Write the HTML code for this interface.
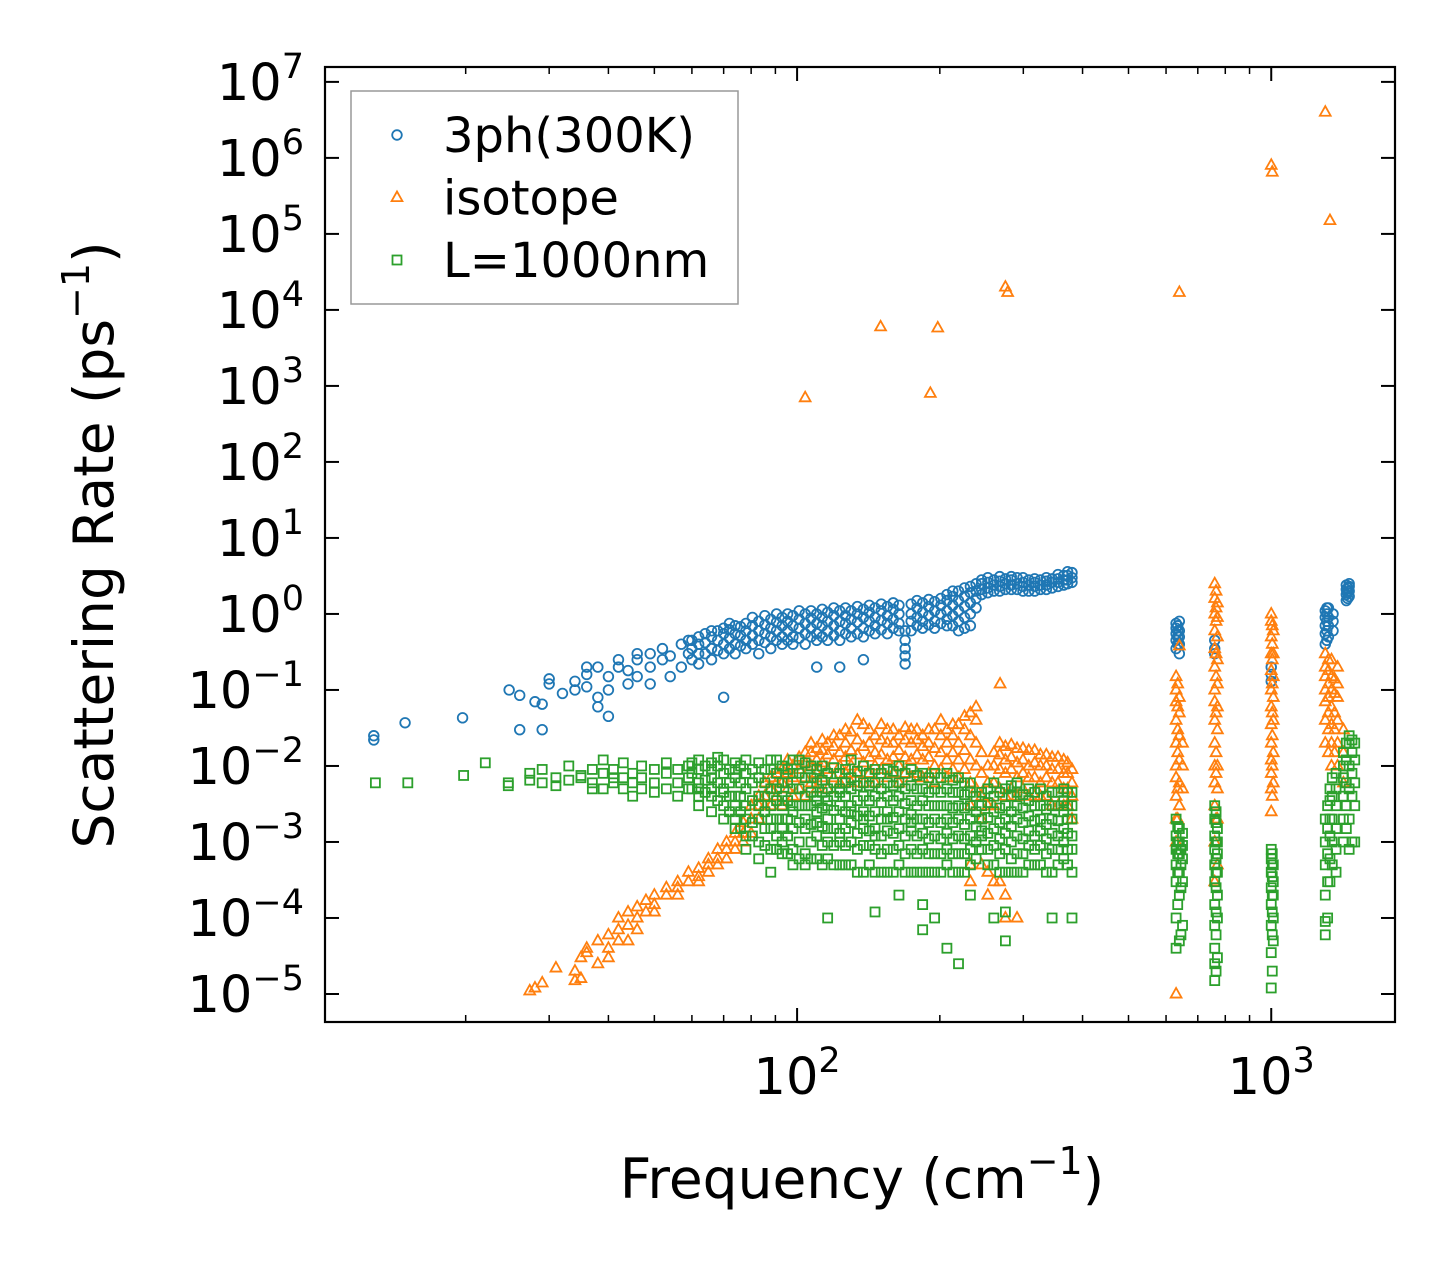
<!DOCTYPE html>
<html><head><meta charset="utf-8"><style>
html,body{margin:0;padding:0;background:#fff;}
svg{display:block;font-family:"DejaVu Sans","Liberation Sans",sans-serif;}
</style></head><body>
<svg id="chart" width="1455" height="1272" viewBox="0 0 1455 1272" xmlns="http://www.w3.org/2000/svg">
<rect x="0" y="0" width="1455" height="1272" fill="#fff"/>
<g id="marks"></g>
<g id="axes"></g>
<g id="legend"></g>
</svg>
<script>
const xDomain=[10.1,1824];
const yDomain=[4.28e-6,1.57e7];
const xTickExps=[2,3];
const yTickExps=[-5,-4,-3,-2,-1,0,1,2,3,4,5,6,7];
const seriesNames=["3ph(300K)","isotope","L=1000nm"];
const seriesColors=["#1f77b4","#ff7f0e","#2ca02c"];

const blueCols=[[12.8,[0.022,0.025]],[14.9,[0.037]],[19.7,[0.043]],[24.7,[0.1]],[26,[0.085,0.03]],[28,[0.07]],[29,[0.03,0.065]],[30,[0.14,0.12]],[32,[0.09]],[34,[0.1,0.13]],[36,[0.16,0.2,0.11]],[38,[0.2,0.06,0.08]],[40,[0.15,0.1,0.045]],[42,[0.2,0.25]],[44,[0.18,0.12]],[46,[0.25,0.3,0.15]],[49,[0.3,0.2,0.12]],[52,[0.35,0.25]],[54,[0.15,0.28]],[57,[0.2,0.4]],[59,[0.3,0.45]],
[62,[0.3,0.4,0.22,0.5]],[66,[0.35,0.5,0.25,0.6]],[70,[0.4,0.55,0.3,0.65,0.08]],[74,[0.4,0.55,0.7,0.3]],[78,[0.45,0.6,0.75,0.35]],[83,[0.45,0.6,0.8,0.3]],[88,[0.5,0.65,0.85,0.35]],[93,[0.5,0.7,0.9,0.4]],[98,[0.5,0.7,0.95,0.4]],[104,[0.55,0.75,1.0,0.4]],[110,[0.55,0.75,1.0,0.45,0.2]],[116,[0.6,0.8,1.05,0.45]],[123,[0.6,0.8,1.1,0.45,0.2]],[130,[0.65,0.85,1.1,0.5]],[138,[0.65,0.9,1.15,0.5,0.25]],[146,[0.7,0.9,1.2,0.55]],[155,[0.75,0.95,1.25,0.55]],[164,[0.75,1.0,1.3,0.6]],[169,[0.22,0.28,0.35,0.45,0.6]],[174,[0.8,1.0,1.35,0.6]],[184,[0.8,1.05,1.4,0.65]],[195,[0.8,1.1,1.45,0.65]],[207,[0.85,1.1,1.5,0.7,1.8]],[219,[0.6,0.8,1.1,1.5,2.0]],[232,[0.7,1.0,1.4,1.9,2.3]],[245,[1.8,2.1,2.5,2.8]],[260,[2.0,2.4,2.8]],[275,[2.1,2.5,2.9]],[291,[2.1,2.5,3.0]],[308,[2.0,2.4,2.8]],[326,[2.1,2.4,2.8]],[345,[2.2,2.6,2.9]],[365,[2.4,2.8,3.2]],[380,[2.6,3.0,3.5]],
[630,[0.35,0.45,0.55,0.65,0.75]],[640,[0.3,0.4,0.5,0.6,0.8]],[760,[0.3,0.35,0.45]],[1000,[0.13,0.16,0.2]],[1300,[0.4,0.55,0.7,0.9,1.1]],[1320,[0.5,0.7,0.9,1.2]],[1350,[0.6,0.8,1.0]],[1440,[1.5,1.8,2.1,2.4]],[1460,[1.7,2.0,2.3,2.5]]];

const blueCols2=[[60,[0.25,0.35,0.45]],[64,[0.3,0.42,0.55]],[68,[0.33,0.45,0.6]],[72,[0.35,0.48,0.62,0.75]],[76,[0.38,0.52,0.68]],[80.5,[0.4,0.52,0.7,0.9]],[85.5,[0.42,0.55,0.72,0.95]],[90.5,[0.45,0.6,0.78,1.0]],[95.5,[0.45,0.6,0.8,1.0]],[101,[0.48,0.65,0.85,1.1]],[107,[0.5,0.65,0.88,1.1]],[113,[0.5,0.7,0.9,1.15]],[119.5,[0.52,0.7,0.95,1.2]],[126.5,[0.55,0.75,0.95,1.2]],[134,[0.55,0.78,1.0,1.25]],[142,[0.6,0.8,1.05,1.3]],[150.5,[0.62,0.82,1.1,1.35]],[159.5,[0.65,0.85,1.15,1.4]],[179,[0.7,0.9,1.2,1.5]],[189.5,[0.72,0.95,1.25,1.55]],[201,[0.75,1.0,1.3,1.6]],[213,[0.7,0.95,1.3,1.7,2.0]],[225.5,[0.65,0.9,1.25,1.7,2.2]],[238.5,[1.2,1.6,2.0,2.5]],[252.5,[1.9,2.2,2.6,3.0]],[267.5,[2.0,2.3,2.7,3.1]],[283,[2.1,2.4,2.8,3.1]],[299.5,[2.0,2.3,2.6,3.0]],[317,[2.0,2.3,2.6,2.9]],[335.5,[2.1,2.4,2.7,3.0]],[355,[2.3,2.6,2.9,3.3]],[372,[2.5,2.8,3.2,3.6]],[635,[0.4,0.5,0.6,0.7]],[1310,[0.45,0.6,0.8,1.0,1.2]],[1450,[1.6,1.9,2.2]]];

const orangeCols=[[27.3,[1.1e-5]],[28,[1.2e-5]],[29,[1.4e-5]],[31,[2.2e-5]],[34,[1.5e-5,2e-5]],[35,[1.6e-5,3e-5]],[36,[4e-5,3.5e-5]],[38,[2.5e-5,5e-5]],[40,[6e-5,4e-5,3e-5]],[42,[5e-5,7e-5,1e-4]],[44,[8e-5,5e-5,1.2e-4]],[46,[1e-4,7e-5,1.4e-4]],[48,[1.2e-4,1.7e-4]],[50,[1.5e-4,2e-4,1.2e-4]],[53,[2e-4,2.5e-4]],[56,[2.5e-4,3e-4,2e-4]],[59,[3e-4,4e-4]],[62,[3.5e-4,4.5e-4,3e-4]],[65,[4e-4,5e-4,6e-4]],[68,[5e-4,6e-4,8e-4]],[71,[6e-4,8e-4,1e-3]],[74,[8e-4,1e-3,1.3e-3]],[77,[1e-3,1.3e-3,1.8e-3]],[80,[1.3e-3,2e-3,3e-3]],
[83,[0.002,0.003,0.004]],[88,[0.003,0.005,0.007]],[93,[0.003,0.006,0.009]],[98,[0.004,0.007,0.01]],[104,[0.004,0.007,0.011,0.015,700]],[110,[0.005,0.008,0.012,0.017]],[116,[0.005,0.009,0.014,0.02]],[123,[0.006,0.01,0.015,0.025]],[130,[0.006,0.01,0.016,0.028]],[138,[0.006,0.011,0.018,0.035]],[146,[0.006,0.01,0.015,0.025]],[150,[6000]],[155,[0.007,0.012,0.02,0.03]],[164,[0.006,0.01,0.016,0.025]],[174,[0.007,0.012,0.02,0.03]],[184,[0.007,0.012,0.018,0.025]],[191,[800]],[195,[0.006,0.01,0.017,0.03]],[198,[5800]],[207,[0.007,0.012,0.02,0.03]],[219,[0.007,0.012,0.02,0.035]],[232,[0.006,0.012,0.025,0.05,0.003,0.0005,0.0003]],[245,[0.004,0.008,0.015,0.002,0.0005]],[260,[0.003,0.006,0.01,0.015,0.0003]],[268,[0.12]],[275,[0.004,0.008,0.012,0.018,0.0002,0.0001,20000]],[278,[17000]],[291,[0.004,0.007,0.011,0.017,0.0001]],[308,[0.004,0.007,0.01,0.016]],[326,[0.004,0.006,0.01,0.014]],[345,[0.003,0.006,0.009,0.013]],[365,[0.003,0.005,0.008,0.012]],[380,[0.002,0.004,0.006,0.009]],
[630,[1e-5,0.001,0.002,0.004,0.007,0.01,0.02,0.04,0.07,0.1,0.15]],[640,[0.003,0.006,0.012,0.025,0.05,0.08,0.38,17000]],[650,[0.005,0.01,0.02]],[760,[3e-4,0.001,0.003,0.006,0.01,0.02,0.04,0.07,0.1,0.2,0.35,0.6,1.0,1.6,2.5]],[770,[5e-4,0.002,0.005,0.01,0.03,0.06,0.12,0.25,0.5,0.9,1.4]],[1000,[0.0025,0.005,0.008,0.012,0.02,0.035,0.06,0.1,0.18,0.3,0.5,0.8,1.0,8e5]],[1005,[6.5e5]],[1010,[0.006,0.015,0.04,0.08,0.15,0.3,0.6]],[1300,[0.02,0.04,0.07,0.1,0.15,0.2,0.3,4e6]],[1330,[1.5e5]],[1340,[0.01,0.02,0.035,0.06,0.1,0.15,0.25]],[1380,[0.01,0.02,0.04,0.08,0.12,0.2]],[1420,[0.006,0.015,0.03]]];

const orangeCols2=[[85.5,[0.003,0.004,0.006]],[90.5,[0.004,0.006,0.008]],[95.5,[0.005,0.008,0.012]],[101,[0.005,0.009,0.013]],[107,[0.006,0.01,0.015,0.02]],[113,[0.007,0.011,0.016,0.022]],[119.5,[0.007,0.012,0.018,0.025]],[126.5,[0.008,0.013,0.02,0.03]],[134,[0.008,0.014,0.022,0.04]],[142,[0.008,0.013,0.02,0.03]],[150.5,[0.009,0.014,0.022,0.035]],[159.5,[0.008,0.013,0.02,0.03]],[169,[0.008,0.013,0.022,0.032]],[179,[0.008,0.014,0.022,0.03]],[189.5,[0.008,0.013,0.02,0.03]],[201,[0.009,0.015,0.025,0.04]],[213,[0.009,0.015,0.025,0.035]],[225.5,[0.009,0.016,0.03,0.045]],[238.5,[0.005,0.01,0.02,0.04,0.06]],[252.5,[0.003,0.006,0.01,0.0004,0.0002]],[267.5,[0.005,0.009,0.014,0.02,0.0003]],[283,[0.005,0.009,0.013,0.019]],[299.5,[0.005,0.008,0.012,0.017]],[317,[0.004,0.007,0.011,0.016]],[335.5,[0.004,0.007,0.01,0.014]],[355,[0.003,0.006,0.009,0.013]],[372,[0.003,0.005,0.008,0.011]],[635,[0.002,0.005,0.015,0.03,0.06,0.12]],[765,[0.002,0.008,0.015,0.05,0.15,0.3,0.8,1.2,2.0]],[1005,[0.004,0.01,0.025,0.05,0.12,0.25,0.4,0.7]],[1320,[0.015,0.03,0.05,0.08,0.12,0.18,0.25]],[1360,[0.015,0.03,0.05,0.09,0.14]]];

const greenCols=[[12.9,[0.006]],[15.1,[0.006]],[19.8,[0.0075]],[22,[0.011]],[24.6,[0.0055,0.006]],[27.3,[0.008,0.0065]],[29,[0.009,0.006]],[31,[0.007,0.0055]],[33,[0.0065,0.01]],[35,[0.007,0.0075]],[37,[0.006,0.009,0.005]],[39,[0.008,0.005,0.012]],[41,[0.006,0.009,0.007]],[43,[0.005,0.011,0.007]],[45,[0.006,0.008,0.004]],[47,[0.007,0.01,0.005]],[50,[0.006,0.009,0.0045]],[53,[0.005,0.008,0.011]],[56,[0.006,0.004,0.009]],[59,[0.005,0.007,0.01]],
[62,[0.004,0.006,0.009,0.005,0.012,0.003]],[66,[0.004,0.007,0.011,0.005,0.009,0.0025]],[70,[0.003,0.005,0.008,0.012,0.002,0.0045]],[74,[0.002,0.004,0.007,0.011,0.0015,0.003,0.009]],[78,[0.0012,0.003,0.005,0.008,0.012,0.002,0.0008]],[83,[0.001,0.002,0.004,0.007,0.011,0.003,0.0006]],[88,[0.0008,0.002,0.003,0.005,0.009,0.012,0.0015,0.0004]],[93,[0.001,0.002,0.004,0.006,0.01,0.0015,0.003,0.0007]],[98,[0.0008,0.0015,0.003,0.005,0.008,0.012,0.0025,0.0005]],[104,[0.0007,0.0015,0.003,0.004,0.007,0.011,0.002,0.0005]],[110,[0.0006,0.0012,0.0025,0.004,0.006,0.009,0.0018,0.0035]],[116,[0.0006,0.001,0.002,0.0035,0.005,0.008,0.0015,0.003,0.0001]],[123,[0.0005,0.001,0.002,0.003,0.005,0.008,0.0013,0.0045]],[130,[0.0005,0.001,0.0018,0.003,0.005,0.007,0.012,0.0025]],[138,[0.0004,0.0009,0.0015,0.0025,0.004,0.006,0.01,0.002]],[146,[0.0004,0.0008,0.0015,0.0025,0.004,0.006,0.009,0.0012,0.00012]],[155,[0.0004,0.0008,0.0014,0.0025,0.004,0.006,0.009,0.002]],[164,[0.0005,0.0009,0.0015,0.0025,0.004,0.006,0.01,0.0002]],[174,[0.0004,0.0008,0.0014,0.0023,0.0035,0.0055,0.009,0.0018]],[184,[0.0004,0.0008,0.0013,0.002,0.0035,0.005,0.008,0.00015,0.00007]],[195,[0.0004,0.0007,0.0012,0.002,0.003,0.005,0.008,0.0001]],[207,[0.0005,0.0008,0.0013,0.002,0.003,0.005,0.008,0.00004]],[219,[0.0004,0.0007,0.0012,0.002,0.003,0.0045,0.007,0.000025]],[232,[0.0005,0.0008,0.0012,0.002,0.003,0.0045,0.006,0.0002]],[245,[0.0008,0.0012,0.002,0.003,0.0045,0.0014]],[260,[0.0005,0.0009,0.0015,0.0025,0.004,0.006,0.0001]],[275,[0.0004,0.0008,0.0013,0.002,0.003,0.005,0.00005,0.00012]],[291,[0.0004,0.0007,0.0012,0.002,0.003,0.0045,0.006]],[308,[0.0005,0.0009,0.0014,0.0022,0.0035,0.005]],[326,[0.0005,0.0009,0.0014,0.002,0.003,0.005]],[345,[0.0004,0.0008,0.0013,0.002,0.003,0.0045,0.0001]],[365,[0.0006,0.001,0.0015,0.0025,0.0035,0.005]],[380,[0.0004,0.0008,0.0012,0.002,0.003,0.0045,0.0001]],
[630,[4e-5,1e-4,3e-4,5e-4,8e-4,0.0012,0.002]],[640,[5e-5,2e-4,4e-4,7e-4,0.001,0.0015]],[650,[8e-5,3e-4,6e-4,9e-4,0.0013]],[760,[1.5e-5,2.5e-5,4e-5,8e-5,1.5e-4,3e-4,5e-4,8e-4,0.0012,0.002,0.003]],[770,[3e-5,1e-4,2e-4,4e-4,7e-4,0.001,0.0015]],[1000,[1.2e-5,3.5e-5,8e-5,1.5e-4,2.5e-4,4e-4,6e-4,8e-4]],[1010,[5e-5,1e-4,2e-4,3e-4,5e-4]],[1300,[6e-5,9e-5,2e-4,5e-4,0.001,0.002]],[1330,[3e-4,6e-4,0.0012,0.002,0.0035,0.005]],[1370,[4e-4,8e-4,0.0015,0.003,0.005,0.008]],[1420,[0.001,0.002,0.004,0.007,0.01,0.015]],[1460,[0.0008,0.002,0.005,0.01,0.02,0.025]],[1500,[0.001,0.003,0.006,0.012,0.02]]];

const greenCols2=[[60,[0.005,0.008,0.011]],[64,[0.0045,0.0065,0.01]],[68,[0.0035,0.006,0.01,0.013]],[72,[0.0025,0.004,0.006,0.009]],[76,[0.0015,0.0025,0.004,0.006,0.01]],[80.5,[0.0012,0.0018,0.0035,0.006,0.009]],[85.5,[0.0009,0.0015,0.0025,0.004,0.006,0.009]],[90.5,[0.0008,0.0012,0.002,0.0035,0.005,0.008,0.012]],[95.5,[0.0007,0.0012,0.002,0.0035,0.006,0.009]],[101,[0.0006,0.001,0.0018,0.003,0.005,0.008,0.012]],[107,[0.0006,0.001,0.0017,0.003,0.0045,0.007,0.01]],[113,[0.0005,0.0009,0.0016,0.0028,0.0045,0.0065,0.01]],[119.5,[0.0005,0.0009,0.0015,0.0026,0.004,0.006,0.0095]],[126.5,[0.0005,0.0009,0.0015,0.0025,0.004,0.006,0.009]],[134,[0.0004,0.0008,0.0013,0.0022,0.0035,0.0055,0.0085]],[142,[0.0005,0.0009,0.0014,0.0022,0.0035,0.0055,0.008]],[150.5,[0.0004,0.0007,0.0012,0.002,0.0033,0.005,0.008]],[159.5,[0.0004,0.0008,0.0013,0.0021,0.0035,0.0055,0.0085]],[169,[0.0004,0.0007,0.0012,0.002,0.0032,0.005,0.008]],[179,[0.0004,0.0007,0.0012,0.002,0.003,0.005,0.0075]],[189.5,[0.0004,0.0007,0.0011,0.0018,0.003,0.0045,0.007]],[201,[0.0004,0.0007,0.0011,0.0018,0.003,0.0045,0.007]],[213,[0.0004,0.0007,0.0011,0.0018,0.0028,0.0045,0.0065]],[225.5,[0.0004,0.0007,0.0011,0.0017,0.0028,0.0042,0.006]],[238.5,[0.0006,0.001,0.0016,0.0025,0.004]],[252.5,[0.0005,0.0008,0.0013,0.0021,0.0033,0.005]],[267.5,[0.0004,0.0007,0.0011,0.0018,0.0028,0.0045]],[283,[0.0004,0.0006,0.001,0.0016,0.0025,0.004,0.0055]],[299.5,[0.0004,0.0007,0.0011,0.0018,0.0028,0.0042]],[317,[0.0005,0.0008,0.0012,0.0019,0.003,0.0045]],[335.5,[0.0004,0.0007,0.0011,0.0017,0.0027,0.004]],[355,[0.0005,0.0008,0.0012,0.0019,0.003,0.0045]],[372,[0.0005,0.0008,0.0013,0.002,0.003,0.0045]],[635,[1.5e-4,4e-4,7e-4,0.001,0.0016]],[645,[6e-5,2.5e-4,5e-4,8e-4]],[765,[2e-5,6e-5,1.2e-4,2.5e-4,4e-4,6e-4,1e-3,1.8e-3,2.5e-3]],[1005,[2e-5,6e-5,1.2e-4,2e-4,3.5e-4,5e-4,7e-4]],[1315,[1e-4,3e-4,7e-4,1.5e-3,3e-3]],[1345,[5e-4,1e-3,2e-3,4e-3,7e-3]],[1440,[0.0015,0.003,0.006,0.012,0.02]],[1480,[0.001,0.004,0.008,0.015,0.022]]];

const NS="http://www.w3.org/2000/svg";
const plot={l:325,r:1395,t:67,b:1022};
function xScale(v){return plot.l+(Math.log10(v)-Math.log10(xDomain[0]))/(Math.log10(xDomain[1])-Math.log10(xDomain[0]))*(plot.r-plot.l);}
function yScale(v){return plot.b-(Math.log10(v)-Math.log10(yDomain[0]))/(Math.log10(yDomain[1])-Math.log10(yDomain[0]))*(plot.b-plot.t);}
function mk(tag,attrs,parent){const e=document.createElementNS(NS,tag);for(const k in attrs)e.setAttribute(k,attrs[k]);parent.appendChild(e);return e;}
function marker(kind,cx,cy,color,parent){
  let e;
  if(kind===0){e=mk('circle',{cx:cx,cy:cy,r:4.8,fill:'none',stroke:color,'stroke-width':1.8},parent);}
  else if(kind===1){const s=6;e=mk('polygon',{points:`${cx},${cy-s} ${cx-s*0.9},${cy+s*0.6} ${cx+s*0.9},${cy+s*0.6}`,fill:'none',stroke:color,'stroke-width':1.8},parent);}
  else {e=mk('rect',{x:cx-4.5,y:cy-4.5,width:9,height:9,fill:'none',stroke:color,'stroke-width':1.8},parent);}
  return e;
}
const marks=document.getElementById('marks');
const allSeries=[blueCols.concat(blueCols2),orangeCols.concat(orangeCols2),greenCols.concat(greenCols2)];
allSeries.forEach((cols,si)=>{
  const g=mk('g',{},marks);
  
  
  cols.forEach(c=>{c[1].forEach(v=>{
    const p=marker(si,xScale(c[0]),yScale(v),seriesColors[si],g);
    
    
  });});
});

const axes=document.getElementById('axes');
const frame=mk('rect',{x:plot.l,y:plot.t,width:plot.r-plot.l,height:plot.b-plot.t,fill:'none',stroke:'#000','stroke-width':2.2},axes);


for(let e=1;e<=3;e++){for(let m=1;m<10;m++){const v=m*Math.pow(10,e);if(v<xDomain[0]||v>xDomain[1])continue;const x=xScale(v);const len=m===1?14:7;const w=m===1?2:1.5;
  mk('line',{x1:x,y1:plot.b,x2:x,y2:plot.b-len,stroke:'#000','stroke-width':w},axes);
  mk('line',{x1:x,y1:plot.t,x2:x,y2:plot.t+len,stroke:'#000','stroke-width':w},axes);}}
xTickExps.forEach(e=>{const x=xScale(Math.pow(10,e));const t=mk('text',{x:x,y:1094,'font-size':51,'text-anchor':'middle',fill:'#000'},axes);
  
  
  t.innerHTML='10<tspan dy="-22" font-size="35">'+e+'</tspan>';});
yTickExps.forEach(e=>{const y=yScale(Math.pow(10,e));
  mk('line',{x1:plot.l,y1:y,x2:plot.l+14,y2:y,stroke:'#000','stroke-width':2},axes);
  mk('line',{x1:plot.r,y1:y,x2:plot.r-14,y2:y,stroke:'#000','stroke-width':2},axes);
  const t=mk('text',{x:304,y:y+18,'font-size':51,'text-anchor':'end',fill:'#000'},axes);
  
  
  const s=e<0?'\u2212'+(-e):''+e;
  t.innerHTML='10<tspan dy="-22" font-size="35">'+s+'</tspan>';});
const xt=mk('text',{x:862,y:1198,'font-size':55,'text-anchor':'middle',fill:'#000'},axes);


xt.innerHTML='Frequency (cm<tspan dy="-24" font-size="38">\u22121</tspan><tspan dy="24">)</tspan>';
const yt=mk('text',{x:0,y:0,'font-size':55,'text-anchor':'middle',fill:'#000',transform:'translate(113,545) rotate(-90)'},axes);


yt.innerHTML='Scattering Rate (ps<tspan dy="-24" font-size="38">\u22121</tspan><tspan dy="24">)</tspan>';
const lg=document.getElementById('legend');
const box=mk('rect',{x:351,y:91,width:387,height:213,fill:'#fff',stroke:'#999','stroke-width':1.5},lg);


seriesNames.forEach((n,i)=>{const y=135+i*62.5;
  const g=mk('g',{},lg);
  
  
  marker(i,397,y,seriesColors[i],g);
  const t=mk('text',{x:443,y:y+17,'font-size':48,fill:'#000'},g);
  t.textContent=n;});
</script>
</body></html>
